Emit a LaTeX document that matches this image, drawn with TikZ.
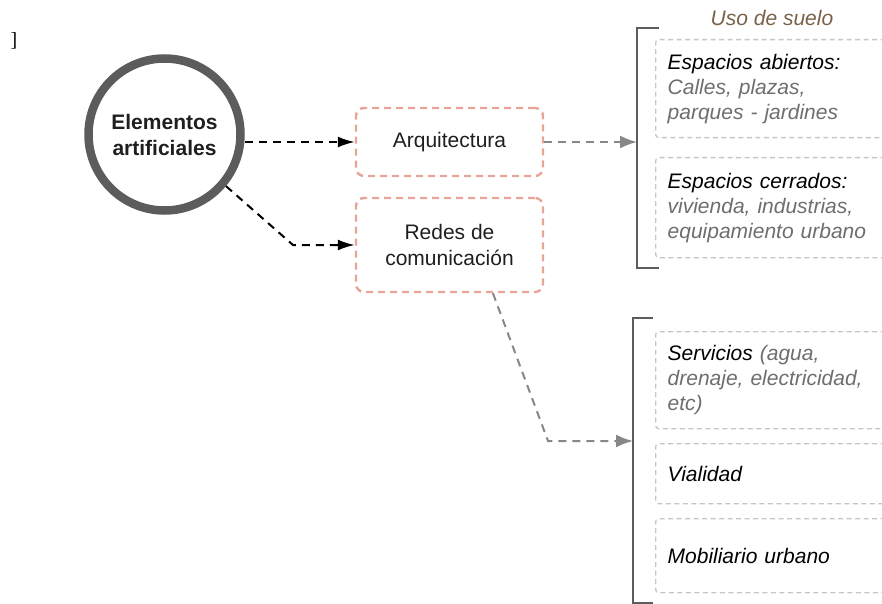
\documentclass[tikz,border=0pt]{standalone}
\usepackage{fontspec}
\setmainfont{Liberation Sans}
\newfontfamily\serifmark{Liberation Serif}
\usetikzlibrary{arrows.meta}

\definecolor{salmon}{HTML}{E8A496}
\definecolor{boxgray}{HTML}{C6C6C6}
\definecolor{txtgray}{HTML}{6E6E6E}
\definecolor{arrowgray}{HTML}{878787}
\definecolor{ringgray}{HTML}{5C5C5C}
\definecolor{usobrown}{HTML}{7A6149}

\tikzset{
  txt/.style={font=\fontsize{21}{26}\selectfont, text=black!88},
  redbox/.style={txt, draw=salmon, line width=2.4pt, dash pattern=on 7pt off 5pt,
    rounded corners=8pt, minimum width=187pt, align=center},
  greybox/.style={draw=boxgray, line width=1.3pt, dash pattern=on 5pt off 3.5pt,
    rounded corners=3pt, anchor=north west, text width=226pt, inner xsep=12pt,
    align=left, text=txtgray, font=\fontsize{21}{25}\selectfont\itshape},
  blackarrow/.style={black, line width=2pt, dash pattern=on 8pt off 6pt,
    -{Latex[length=17pt,width=11pt]}},
  greyarrow/.style={arrowgray, line width=2pt, dash pattern=on 8pt off 6pt,
    -{Latex[length=17pt,width=13pt]}},
  bracket/.style={draw=ringgray, line width=2pt}
}

\begin{document}
\begin{tikzpicture}[x=1pt, y=-1pt]
  \useasboundingbox (0,0) rectangle (882,604);
  \clip (0,0) rectangle (882,604);

  % stray mark at the top left
  \node[font=\serifmark\fontsize{20}{20}\selectfont] (mark) at (14,41) {]};

  % main circle
  \node[circle, draw=ringgray, line width=8.5pt, minimum size=152pt, align=center,
    font=\bfseries\fontsize{21}{26}\selectfont, text=black!88] (elem) at (164.5,134.5)
    {Elementos\\artificiales};

  % middle boxes
  \node[redbox, minimum height=68pt] (arq) at (449.5,142) {Arquitectura};
  \node[redbox, minimum height=94pt] (redes) at (449.5,245) {Redes de\\comunicación};

  % arrows from the circle
  \coordinate (k1) at (293,245);
  \draw[blackarrow] (elem.east |- arq.west) -- (arq.west);
  \draw[blackarrow] (elem.-40) -- (k1) -- (redes.west);

  % upper bracket
  \node[font=\fontsize{21}{26}\selectfont\itshape, text=usobrown] (uso) at (772,18) {Uso de suelo};
  \draw[bracket] (659,28) -- (637,28) -- (637,268) -- (659,268);
  \coordinate (usoin) at (637,142);
  \draw[greyarrow] (arq.east) -- (usoin);

  \node[greybox, minimum height=98pt] (abiertos) at (655,39)
    {\textcolor{black}{Espacios abiertos:}\\Calles, plazas,\\parques - jardines};
  \node[greybox, minimum height=100pt] (cerrados) at (655,157)
    {\textcolor{black}{Espacios cerrados:}\\vivienda, industrias,\\equipamiento urbano};

  % lower bracket
  \draw[bracket] (653,318) -- (633,318) -- (633,603) -- (653,603);
  \coordinate (k2) at (548,441);
  \coordinate (redin) at (633,441);
  \draw[greyarrow] (redes.-48) -- (k2) -- (redin);

  \node[greybox, minimum height=97pt] (servicios) at (655,331)
    {\textcolor{black}{Servicios} (agua,\\drenaje, electricidad,\\etc)};
  \node[greybox, minimum height=60pt] (vialidad) at (655,443)
    {\textcolor{black}{Vialidad}};
  \node[greybox, minimum height=74pt] (mobiliario) at (655,518)
    {\textcolor{black}{Mobiliario urbano}};
\end{tikzpicture}
\end{document}
